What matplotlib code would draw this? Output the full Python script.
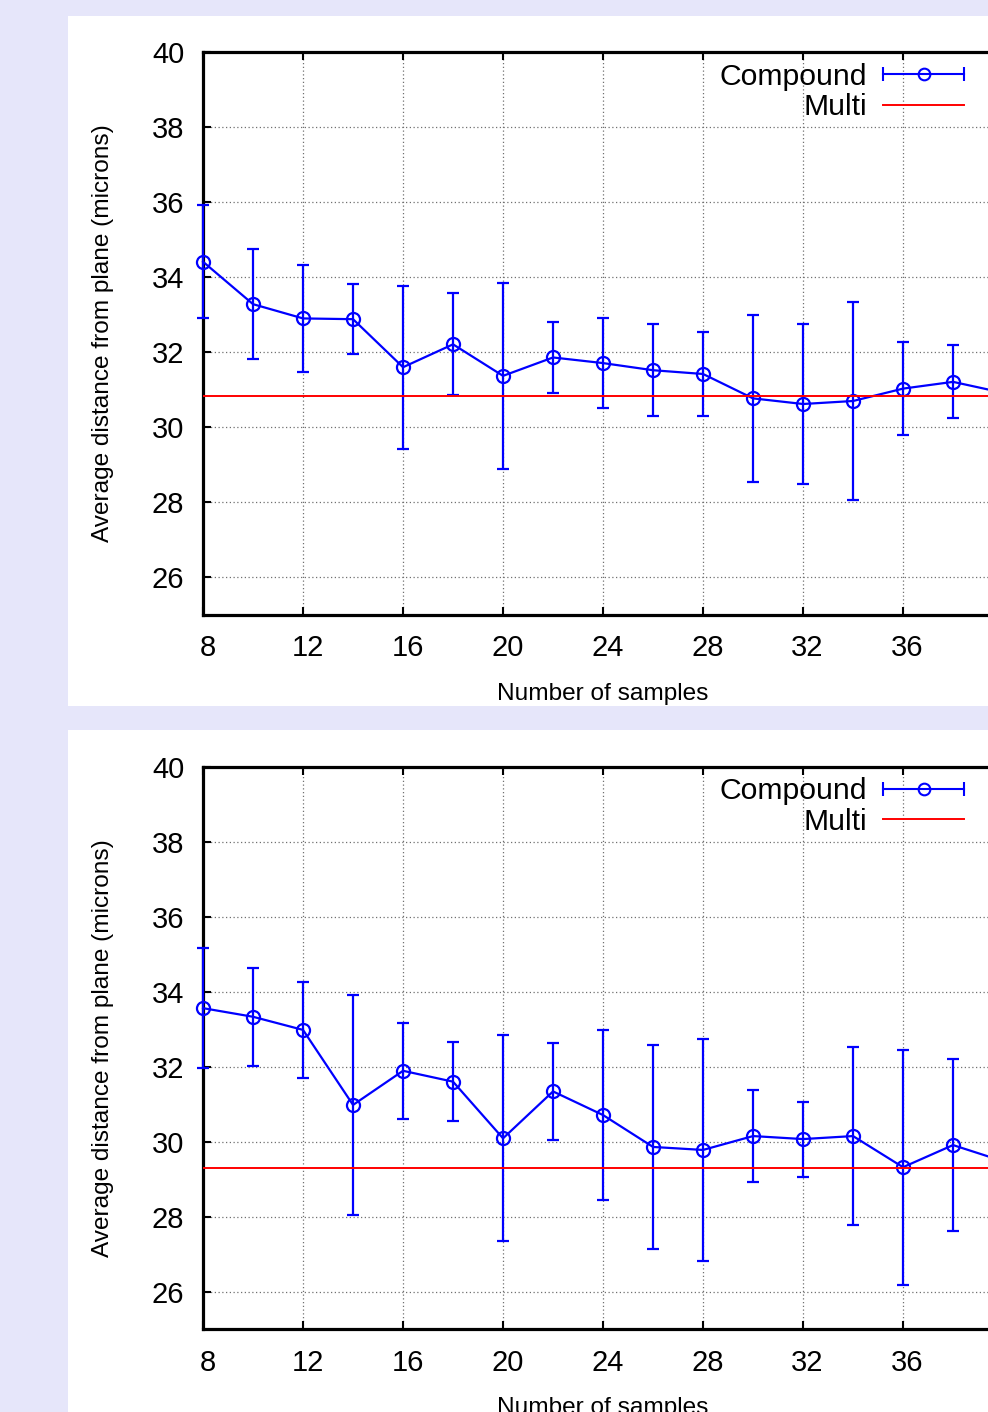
import matplotlib
matplotlib.use("Agg")
import matplotlib.pyplot as plt
import matplotlib.transforms as mtransforms
from matplotlib.lines import Line2D
from matplotlib.legend_handler import HandlerLine2D
from matplotlib.patches import Rectangle

plt.rcParams['font.family'] = ['Liberation Sans', 'DejaVu Sans']

# data
samples = [8, 10, 12, 14, 16, 18, 20, 22, 24, 26, 28, 30, 32, 34, 36, 38, 40]

top_compound = [34.41, 33.28, 32.90, 32.88, 31.60, 32.21, 31.37, 31.86, 31.71,
                31.52, 31.42, 30.77, 30.62, 30.70, 31.03, 31.21, 30.92]
top_err = [1.51, 1.47, 1.42, 0.93, 2.17, 1.36, 2.47, 0.95, 1.20,
           1.23, 1.13, 2.22, 2.14, 2.64, 1.23, 0.97, 1.00]
top_multi = 30.83

bottom_compound = [33.56, 33.33, 32.98, 30.98, 31.89, 31.60, 30.09, 31.34, 30.71,
                   29.86, 29.78, 30.15, 30.07, 30.15, 29.32, 29.91, 29.48]
bottom_err = [1.60, 1.30, 1.28, 2.94, 1.28, 1.05, 2.75, 1.29, 2.26,
              2.73, 2.95, 1.23, 1.00, 2.37, 3.13, 2.30, 1.50]
bottom_multi = 29.31

xticks = [8, 12, 16, 20, 24, 28, 32, 36]
yticks = [26, 28, 30, 32, 34, 36, 38, 40]

BLUE = '#0000ff'
RED = '#ff0000'

fig = plt.figure(figsize=(9.88, 14.12), dpi=100)
fig.patch.set_facecolor('#e6e6fa')

# white panels behind each plot
fig.patches.append(Rectangle((0.0688, 0.5), 1.0, 0.4889, transform=fig.transFigure,
                             facecolor='white', edgecolor='none', zorder=-5))
fig.patches.append(Rectangle((0.0688, 0.0), 1.0, 0.483, transform=fig.transFigure,
                             facecolor='white', edgecolor='none', zorder=-5))


def draw_panel(ax, means, errs, multi):
    ax.set_facecolor('white')
    ax.errorbar(samples, means, yerr=errs, color=BLUE, lw=1.6, elinewidth=1.6,
                capsize=4, capthick=1.6, marker='o', markersize=9.4,
                markerfacecolor='none', markeredgewidth=1.6, clip_on=False, zorder=3)
    ax.axhline(multi, color=RED, lw=1.4, zorder=4)

    ax.set_xlim(8, 40)
    ax.set_ylim(25, 40)
    ax.set_xticks(xticks)
    ax.set_yticks(yticks)
    ax.grid(True, color='#707070', lw=0.9, linestyle=(0, (1, 2)), zorder=1)
    ax.set_axisbelow(True)

    for sp in ax.spines.values():
        sp.set_linewidth(2.3)
        sp.set_color('black')
    ax.tick_params(axis='both', direction='in', length=6, width=1.5,
                   top=True, right=True, labelsize=21)
    ax.tick_params(axis='x', pad=14)
    ax.tick_params(axis='y', pad=13.5)

    offset = mtransforms.ScaledTranslation(0.045, 0, fig.dpi_scale_trans)
    for lab in ax.get_xticklabels():
        lab.set_transform(lab.get_transform() + offset)

    ax.set_xlabel('Number of samples', fontsize=17.6)
    ax.set_ylabel('Average distance from plane (microns)', fontsize=17.6)
    ax.xaxis.set_label_coords(0.5, -0.121)
    ax.yaxis.set_label_coords(-0.111, 0.5)

    # gnuplot style key: text on the left, sample on the right
    caps = Line2D([], [], color=BLUE, lw=1.5, marker='|', markersize=10, markeredgewidth=1.5)
    dot = Line2D([], [], color=BLUE, lw=0, marker='o', markersize=8.4,
                 markerfacecolor='none', markeredgewidth=1.5)
    red = Line2D([], [], color=RED, lw=1.4)
    hmap = {caps: HandlerLine2D(numpoints=2), dot: HandlerLine2D(numpoints=1),
            red: HandlerLine2D(numpoints=2)}
    ax.legend([(caps, dot), red], ['Compound', 'Multi'], handler_map=hmap,
              loc='upper right', bbox_to_anchor=(0.963, 0.981), frameon=False,
              fontsize=21.7, borderpad=0, borderaxespad=0, handlelength=3.3,
              handletextpad=0.24, labelspacing=0.08, markerfirst=False)


ax1 = fig.add_axes([0.2055, 0.5645, 0.8097, 0.3987])
draw_panel(ax1, top_compound, top_err, top_multi)

ax2 = fig.add_axes([0.2055, 0.0586, 0.8097, 0.3985])
draw_panel(ax2, bottom_compound, bottom_err, bottom_multi)

fig.savefig('out.png', dpi=100, facecolor=fig.get_facecolor())
